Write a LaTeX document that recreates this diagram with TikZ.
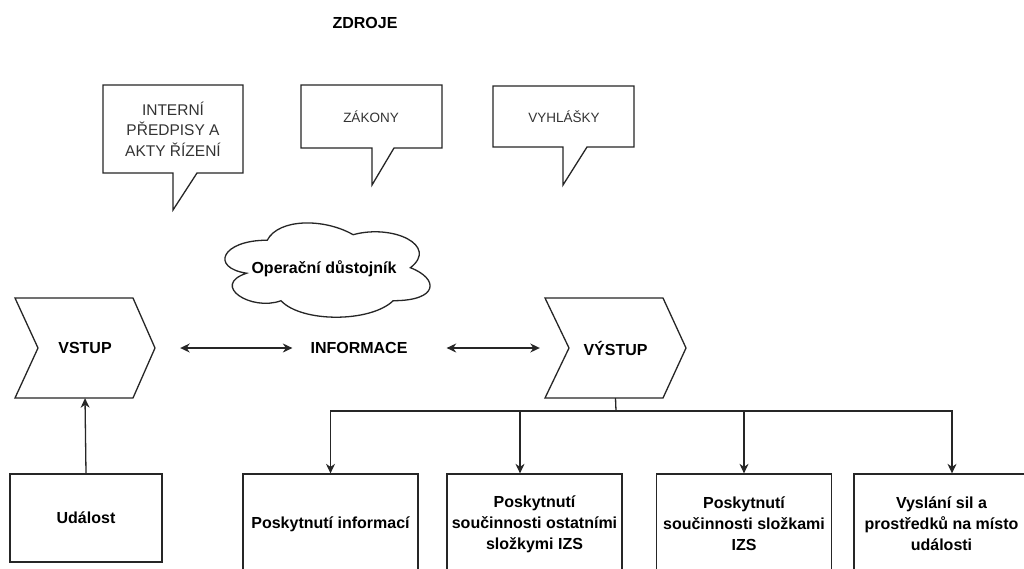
\documentclass[tikz,border=0pt]{standalone}
\usepackage{fontspec}
\setmainfont{Liberation Sans}
\usetikzlibrary{arrows.meta}

\tikzset{
  lbl/.style={font=\fontsize{16}{19}\selectfont\bfseries, inner sep=0pt},
  boxtxt/.style={font=\fontsize{16}{21}\selectfont\bfseries, align=center},
  calltxt/.style={font=\fontsize{14}{20.5}\selectfont, text=black!80, align=center, inner sep=0pt},
  outline/.style={draw=black!85, line width=1.3pt},
  box/.style={outline, minimum width=175pt, minimum height=100pt, inner sep=0pt},
  tip/.style={-{Stealth[length=9.5pt, width=9pt, inset=3pt]}},
  dtip/.style={{Stealth[length=9.5pt, width=9pt, inset=3pt]}-{Stealth[length=9.5pt, width=9pt, inset=3pt]}},
  link/.style={draw=black!85, line width=1.3pt},
}

\begin{document}
\begin{tikzpicture}[x=1pt, y=-1pt]
\useasboundingbox (0,0) rectangle (1024,568);
\clip (0,0) rectangle (1024,568);
\fill[white] (0,0) rectangle (1024,568);

% heading
\node[lbl] (zdroje) at (365,23) {ZDROJE};

% speech-bubble sources
\draw[outline, fill=white] (103,85) -- (243,85) -- (243,173) -- (197,173) -- (173,210)
  -- (173,173) -- (103,173) -- cycle;
\node[calltxt, font=\fontsize{15.5}{20.5}\selectfont] (interni) at (173,129)
  {INTERNÍ\\PŘEDPISY A\\AKTY ŘÍZENÍ};

\draw[outline, fill=white] (301,85) -- (442,85) -- (442,148) -- (394,148) -- (372,185)
  -- (372,148) -- (301,148) -- cycle;
\node[calltxt, font=\fontsize{13.5}{16}\selectfont] (zakony) at (371,117) {ZÁKONY};

\draw[outline, fill=white] (493,86) -- (634,86) -- (634,147) -- (587,147) -- (563,185)
  -- (563,147) -- (493,147) -- cycle;
\node[calltxt, font=\fontsize{13.5}{16}\selectfont] (vyhlasky) at (564,117) {VYHLÁŠKY};

% cloud
\begin{scope}[shift={(210,212.7)}, x=229pt, y=-110pt]
\draw[outline, fill=white] (0.25,0.25) .. controls (0.05,0.25) and (0,0.5) .. (0.16,0.55)
  .. controls (0,0.66) and (0.18,0.9) .. (0.31,0.8)
  .. controls (0.4,1) and (0.7,1) .. (0.8,0.8)
  .. controls (1,0.8) and (1,0.6) .. (0.875,0.5)
  .. controls (1,0.3) and (0.8,0.1) .. (0.625,0.2)
  .. controls (0.5,0.05) and (0.3,0.05) .. (0.25,0.25) -- cycle;
\end{scope}
\node[lbl] (cloud) at (324,269) {Operační důstojník};

% input / output chevrons
\draw[outline, fill=white] (15,298) -- (133,298) -- (155,348) -- (133,398) -- (15,398)
  -- (38,348) -- cycle;
\node[lbl, minimum width=140pt, minimum height=100pt] (vstup) at (85,348) {VSTUP};

\draw[outline, fill=white] (545,298) -- (663,298) -- (686,348) -- (663,398) -- (545,398)
  -- (569,348) -- cycle;
\node[lbl, minimum width=141pt, minimum height=100pt] (vystup) at (615.5,348) {VÝSTUP};

\node[lbl] (info) at (359,348) {INFORMACE};

\draw[link, dtip] ([xshift=25pt]vstup.east) -- ([xshift=-18pt]info.west);
\draw[link, dtip] ([xshift=39pt]info.east) -- ([xshift=-5pt]vystup.west);

% event
\node[box, minimum width=152pt, minimum height=88pt, boxtxt] (udalost) at (86,518) {Událost};
\draw[link, tip] (udalost.north) -- (vstup.south);

% outcomes
\node[box, boxtxt] (b1) at (330.5,524) {Poskytnutí informací};
\node[box, boxtxt] (b2) at (534.5,524) {Poskytnutí\\součinnosti ostatními\\složkymi IZS};
\node[box, boxtxt] (b3) at (744,524) {Poskytnutí\\součinnosti složkami\\IZS};
\node[box, boxtxt] (b4) at (941.5,524) {Vyslání sil a\\prostředků na místo\\události};

\coordinate (split) at (616,411);
\draw[link] (vystup.south) -- (split);
\draw[link, tip] (split) -| (b1.north);
\draw[link, tip] (split) -| ([xshift=-14.5pt]b2.north);
\draw[link, tip] (split) -| (b3.north);
\draw[link, tip] (split) -| ([xshift=10.5pt]b4.north);
\end{tikzpicture}
\end{document}
